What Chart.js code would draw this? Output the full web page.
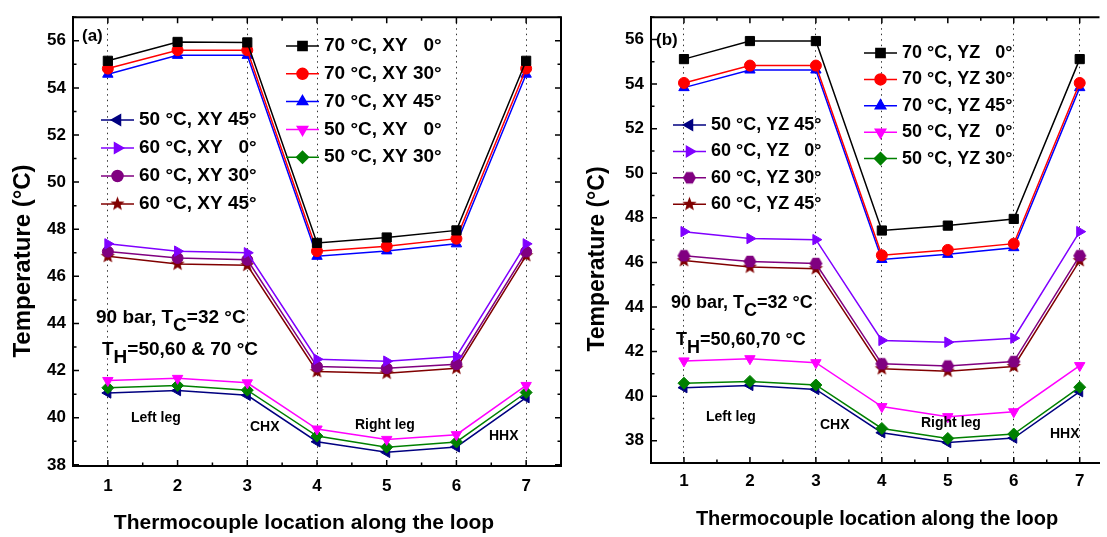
<!DOCTYPE html>
<html>
<head>
<meta charset="utf-8">
<script src="https://cdn.jsdelivr.net/npm/chart.js@4.4.0/dist/chart.umd.min.js"></script>
<style>
  html, body { margin: 0; padding: 0; background: #fff; overflow: hidden; }
  #wrap { position: relative; width: 1107px; height: 537px; }
  canvas { position: absolute; top: 0; }
  #chartA { left: 0; }
  #chartB { left: 570px; }
</style>
</head>
<body>
<div id="wrap">
  <canvas id="chartA" width="570" height="537"></canvas>
  <canvas id="chartB" width="537" height="537"></canvas>
</div>
<script>
// thermocouple positions along the loop
const locations = [1, 2, 3, 4, 5, 6, 7];
const yTickValues = [38, 40, 42, 44, 46, 48, 50, 52, 54, 56];
const separatorLocations = [1, 3, 4, 6, 7];
const regionLabels = ['Left leg', 'CHX', 'Right leg', 'HHX'];

const labelsXY = ['70 °C, XY   0°', '70 °C, XY 30°', '70 °C, XY 45°', '50 °C, XY   0°', '50 °C, XY 30°',
                  '50 °C, XY 45°', '60 °C, XY   0°', '60 °C, XY 30°', '60 °C, XY 45°'];
const labelsYZ = ['70 °C, YZ   0°', '70 °C, YZ 30°', '70 °C, YZ 45°', '50 °C, YZ   0°', '50 °C, YZ 30°',
                  '50 °C, YZ 45°', '60 °C, YZ   0°', '60 °C, YZ 30°', '60 °C, YZ 45°'];

// (a) XY plane
const xy70_0  = [55.15, 55.95, 55.93, 47.42, 47.65, 47.95, 55.15];
const xy70_30 = [54.82, 55.60, 55.60, 47.07, 47.28, 47.60, 54.82];
const xy70_45 = [54.58, 55.38, 55.38, 46.85, 47.08, 47.38, 54.58];
const xy50_0  = [41.58, 41.67, 41.48, 39.52, 39.08, 39.28, 41.37];
const xy50_30 = [41.27, 41.37, 41.17, 39.22, 38.75, 38.97, 41.07];
const xy50_45 = [41.05, 41.15, 40.95, 38.98, 38.53, 38.76, 40.85];
const xy60_0  = [47.38, 47.07, 47.00, 42.48, 42.40, 42.60, 47.38];
const xy60_30 = [47.05, 46.78, 46.70, 42.17, 42.10, 42.27, 47.05];
const xy60_45 = [46.85, 46.52, 46.47, 41.96, 41.89, 42.10, 46.88];

// (b) YZ plane
const yz70_0  = [55.12, 55.93, 55.93, 47.43, 47.65, 47.95, 55.12];
const yz70_30 = [54.05, 54.83, 54.83, 46.32, 46.56, 46.84, 54.05];
const yz70_45 = [53.84, 54.63, 54.63, 46.13, 46.36, 46.66, 53.84];
const yz50_0  = [41.58, 41.68, 41.50, 39.53, 39.08, 39.30, 41.37];
const yz50_30 = [40.58, 40.66, 40.50, 38.55, 38.10, 38.30, 40.40];
const yz50_45 = [40.38, 40.48, 40.30, 38.36, 37.92, 38.12, 40.20];
const yz60_0  = [47.38, 47.07, 47.02, 42.50, 42.42, 42.60, 47.38];
const yz60_30 = [46.30, 46.04, 45.95, 41.45, 41.35, 41.55, 46.30];
const yz60_45 = [46.08, 45.79, 45.72, 41.23, 41.12, 41.33, 46.08];

const FONT = "'Liberation Sans', Arial, sans-serif";
Chart.defaults.font.family = FONT;

function polyImage(color, n, rOut, rIn, rot) {
    const c = document.createElement('canvas');
    const s = Math.ceil(rOut * 2) + 2;
    c.width = s; c.height = s;
    const g = c.getContext('2d');
    g.fillStyle = color;
    g.beginPath();
    const step = rIn ? Math.PI / n : 2 * Math.PI / n;
    const count = rIn ? n * 2 : n;
    for (let i = 0; i < count; i++) {
        const r = rIn && i % 2 ? rIn : rOut;
        const a = rot + i * step;
        const px = s / 2 + r * Math.cos(a), py = s / 2 + r * Math.sin(a);
        if (i === 0) g.moveTo(px, py); else g.lineTo(px, py);
    }
    g.closePath();
    g.fill();
    return c;
}

const starMark = polyImage('#800000', 5, 7.5, 3.2, -Math.PI / 2);
const hexMark = polyImage('#800080', 6, 6.5, 0, 0);

function seriesStyles(circleMark) {
    return [
        {color: '#000000', point: 'rect', radius: 6.5},
        {color: '#ff0000', point: 'circle', radius: 5.5},
        {color: '#0000ff', point: 'triangle', radius: 6},
        {color: '#ff00ff', point: 'triangle', rotation: 180, radius: 6},
        {color: '#008000', point: 'rectRot', radius: 6},
        {color: '#000080', point: 'triangle', rotation: -90, radius: 6},
        {color: '#8000ff', point: 'triangle', rotation: 90, radius: 6},
        {color: '#800080', point: circleMark, radius: 5.5},
        {color: '#800000', point: starMark, radius: 6}
    ];
}

function makeDatasets(series, labels, styles) {
    return series.map((vals, i) => {
        const st = styles[i];
        return {
            label: labels[i],
            data: locations.map((x, j) => ({x: x, y: vals[j]})),
            borderColor: st.color,
            backgroundColor: st.color,
            pointBackgroundColor: st.color,
            pointBorderColor: st.color,
            pointStyle: st.point,
            pointRotation: st.rotation || 0,
            pointRadius: st.radius,
            pointBorderWidth: 1,
            borderWidth: 1.5,
            tension: 0
        };
    });
}

function makeScales(c) {
    return {
        x: {
            type: 'linear',
            min: c.xMin,
            max: c.xMax,
            afterBuildTicks: s => { s.ticks = locations.map(v => ({value: v})); },
            afterFit: s => { s.height = c.xHeight; },
            ticks: {color: '#000', font: {size: 17, weight: 'bold'}, padding: c.xPad},
            grid: {
                color: ctx => (ctx.tick && separatorLocations.includes(ctx.tick.value)) ? '#333' : 'rgba(0,0,0,0)',
                lineWidth: 1,
                drawTicks: false
            },
            border: {display: true, color: '#000', width: 2, dash: [1.5, 4]}
        },
        y: {
            min: c.yMin,
            max: c.yMax,
            afterBuildTicks: s => { s.ticks = yTickValues.map(v => ({value: v})); },
            afterFit: s => { s.width = c.yWidth; },
            ticks: {color: '#000', font: {size: 17, weight: 'bold'}, padding: 7},
            grid: {display: false, drawTicks: false},
            border: {display: true, color: '#000', width: 2}
        }
    };
}

// inward tick marks and the top / right frame lines
const framePlugin = {
    id: 'frame',
    afterDatasetsDraw(chart, args, opts) {
        const {ctx, chartArea: a, scales: {x, y}} = chart;
        ctx.save();
        ctx.strokeStyle = '#000';
        ctx.lineWidth = 1.5;
        ctx.beginPath();
        for (let v = Math.ceil(x.min * 2) / 2; v <= x.max + 1e-6; v += 0.5) {
            const px = x.getPixelForValue(v);
            const len = Number.isInteger(v) ? 6 : 3.5;
            ctx.moveTo(px, a.bottom); ctx.lineTo(px, a.bottom - len);
            ctx.moveTo(px, a.top); ctx.lineTo(px, a.top + len);
        }
        for (let v = Math.ceil(y.min); v <= y.max; v += 1) {
            const py = y.getPixelForValue(v);
            const len = v % 2 === 0 ? 6 : 3.5;
            ctx.moveTo(a.left, py); ctx.lineTo(a.left + len, py);
            if (opts.right) { ctx.moveTo(a.right, py); ctx.lineTo(a.right - len, py); }
        }
        ctx.stroke();
        ctx.lineWidth = 2;
        ctx.beginPath();
        ctx.moveTo(a.left - 1, a.top);
        ctx.lineTo(a.right, a.top);
        if (opts.right) ctx.lineTo(a.right, a.bottom + 1);
        ctx.stroke();
        ctx.restore();
    }
};

function boldFont(size) { return 'bold ' + size + 'px ' + FONT; }

// in-plot legends, annotations and axis titles
const notesPlugin = {
    id: 'notes',
    afterDraw(chart, args, o) {
        const ctx = chart.ctx;
        ctx.save();
        ctx.textBaseline = 'middle';
        ctx.textAlign = 'left';
        o.legend.forEach(b => b.items.forEach((di, k) => {
            const ds = chart.data.datasets[di];
            const yy = b.y + k * b.gap;
            ctx.strokeStyle = ds.borderColor;
            ctx.fillStyle = ds.borderColor;
            ctx.lineWidth = 1.5;
            ctx.beginPath();
            ctx.moveTo(b.x, yy);
            ctx.lineTo(b.x + 33, yy);
            ctx.stroke();
            Chart.helpers.drawPoint(ctx, {
                pointStyle: ds.pointStyle, rotation: ds.pointRotation, radius: ds.pointRadius, borderWidth: 1
            }, b.x + 16.5, yy);
            ctx.fillStyle = '#000';
            ctx.font = boldFont(b.size);
            ctx.fillText(ds.label, b.x + 38, yy);
        }));
        ctx.fillStyle = '#000';
        o.texts.forEach(t => {
            ctx.save();
            ctx.font = boldFont(t.size);
            if (t.rotate) {
                ctx.translate(t.x, t.y);
                ctx.rotate(-Math.PI / 2);
                ctx.textAlign = 'center';
                ctx.fillText(t.text, 0, 0);
            } else {
                ctx.textAlign = t.align || 'left';
                let xx = t.x;
                ctx.fillText(t.text, xx, t.y);
                if (t.sub) {
                    xx += ctx.measureText(t.text).width;
                    ctx.fillText(t.sub, xx, t.y + 8);
                    xx += ctx.measureText(t.sub).width;
                    ctx.fillText(t.rest, xx, t.y);
                }
            }
            ctx.restore();
        });
        ctx.restore();
    }
};

function makeChart(id, datasets, scaleCfg, pad, frameOpts, notes) {
    return new Chart(document.getElementById(id), {
        type: 'line',
        data: {datasets: datasets},
        options: {
            responsive: false,
            animation: false,
            devicePixelRatio: 1,
            layout: {padding: pad},
            plugins: {
                legend: {display: false},
                tooltip: {enabled: false},
                frame: frameOpts,
                notes: notes
            },
            scales: makeScales(scaleCfg)
        },
        plugins: [framePlugin, notesPlugin]
    });
}

document.addEventListener('DOMContentLoaded', function() {
    const seriesA = [xy70_0, xy70_30, xy70_45, xy50_0, xy50_30, xy50_45, xy60_0, xy60_30, xy60_45];
    const seriesB = [yz70_0, yz70_30, yz70_45, yz50_0, yz50_30, yz50_45, yz60_0, yz60_30, yz60_45];

    makeChart('chartA',
        makeDatasets(seriesA, labelsXY, seriesStyles('circle')),
        {xMin: 0.5, xMax: 7.5, yMin: 37.95, yMax: 57, xHeight: 71, yWidth: 73, xPad: 10},
        {left: 0, right: 9, top: 12, bottom: 0},
        {right: true},
        {
            legend: [
                {x: 286, y: 46, gap: 27.8, size: 19, items: [0, 1, 2, 3, 4]},
                {x: 101, y: 120, gap: 28, size: 19, items: [5, 6, 7, 8]}
            ],
            texts: [
                {text: '(a)', x: 82, y: 36, size: 17},
                {text: '90 bar, T', sub: 'C', rest: '=32 °C', x: 96, y: 318, size: 19},
                {text: 'T', sub: 'H', rest: '=50,60 & 70 °C', x: 102, y: 350, size: 19},
                {text: regionLabels[0], x: 131, y: 418, size: 14},
                {text: regionLabels[1], x: 250, y: 427, size: 14},
                {text: regionLabels[2], x: 355, y: 425, size: 14},
                {text: regionLabels[3], x: 489, y: 436, size: 14},
                {text: 'Temperature (°C)', x: 23, y: 261, size: 24, rotate: true},
                {text: 'Thermocouple location along the loop', x: 304, y: 523, size: 21, align: 'center'}
            ]
        });

    makeChart('chartB',
        makeDatasets(seriesB, labelsYZ, seriesStyles(hexMark)),
        {xMin: 0.5, xMax: 7.3, yMin: 37, yMax: 57, xHeight: 74, yWidth: 81, xPad: 8},
        {left: 0, right: 0, top: 17, bottom: 0},
        {right: false},
        {
            legend: [
                {x: 294, y: 53, gap: 26.4, size: 18, items: [0, 1, 2, 3, 4]},
                {x: 103, y: 125, gap: 26.4, size: 18, items: [5, 6, 7, 8]}
            ],
            texts: [
                {text: '(b)', x: 86, y: 40, size: 17},
                {text: '90 bar, T', sub: 'C', rest: '=32 °C', x: 101, y: 303, size: 18},
                {text: 'T', sub: 'H', rest: '=50,60,70 °C', x: 106, y: 340, size: 18},
                {text: regionLabels[0], x: 136, y: 417, size: 14},
                {text: regionLabels[1], x: 250, y: 425, size: 14},
                {text: regionLabels[2], x: 351, y: 423, size: 14},
                {text: regionLabels[3], x: 480, y: 434, size: 14},
                {text: 'Temperature (°C)', x: 28, y: 259, size: 23, rotate: true},
                {text: 'Thermocouple location along the loop', x: 307, y: 519, size: 20, align: 'center'}
            ]
        });
});
</script>
</body>
</html>
